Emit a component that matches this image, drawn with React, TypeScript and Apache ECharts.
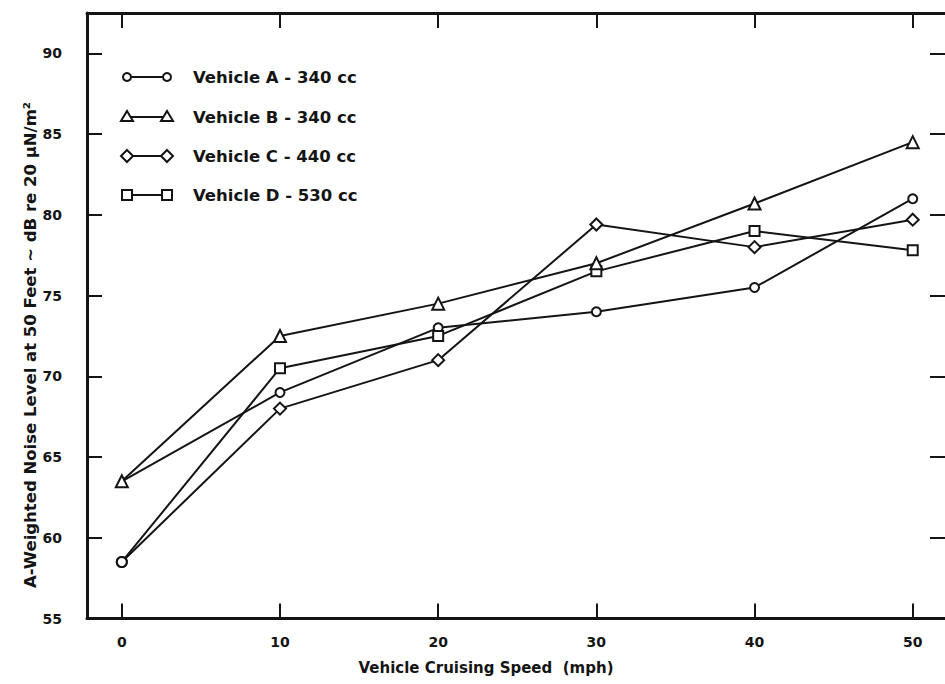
import React, { useEffect, useRef } from "react";
import * as echarts from "echarts";

const speeds = [0, 10, 20, 30, 40, 50];
const vehicleA = [63.5, 69, 73, 74, 75.5, 81];
const vehicleB = [63.5, 72.5, 74.5, 77, 80.7, 84.5];
const vehicleC = [58.5, 68, 71, 79.4, 78, 79.7];
const vehicleD = [58.5, 70.5, 72.5, 76.5, 79, 77.8];
const seriesNames = [
  "Vehicle A - 340 cc",
  "Vehicle B - 340 cc",
  "Vehicle C - 440 cc",
  "Vehicle D - 530 cc",
];
const xTicks = [0, 10, 20, 30, 40, 50];
const yTicks = [55, 60, 65, 70, 75, 80, 85, 90];
const xTitle = "Vehicle Cruising Speed  (mph)";
const yTitle = "A-Weighted Noise Level at 50 Feet ~ dB re 20 μN/m²";

const INK = "#141414";
const FONT = "DejaVu Sans";

export default function App() {
  const ref = useRef<HTMLDivElement>(null);
  useEffect(() => {
    if (!ref.current) return;
    const chart = echarts.init(ref.current, null, { renderer: "svg" });

    const symbols = ["circle", "triangle", "diamond", "rect"];
    const sizes = [9, 12, 12, 10];
    const values = [vehicleA, vehicleB, vehicleC, vehicleD];

    const series = values.map((vals, si) => ({
      name: seriesNames[si],
      type: "line",
      xAxisIndex: 0,
      yAxisIndex: 0,
      symbol: symbols[si],
      symbolSize: sizes[si],
      showAllSymbol: true,
      z: 2 + (si === 1 ? 5 : si),
      lineStyle: { color: INK, width: 2 },
      itemStyle: { color: "#fff", borderColor: INK, borderWidth: 2 },
      emphasis: { disabled: true },
      data: vals.map((v, i) => {
        const item: any = { value: [speeds[i], v] };
        if (i === 0 && si === 0) item.symbol = "none";
        if (i === 0 && (si === 2 || si === 3)) {
          item.symbol = "circle";
          item.symbolSize = 10;
        }
        return item;
      }),
    }));

    const legendY = [77, 117, 156, 195];
    const legendGraphics: any[] = [];
    const mk = (kind: string, x: number, y: number) => {
      const style = { fill: "#fff", stroke: INK, lineWidth: 2 };
      if (kind === "circle") return { type: "circle", shape: { cx: x, cy: y, r: 4 }, style };
      if (kind === "triangle")
        return { type: "polygon", shape: { points: [[x, y - 6], [x + 6, y + 4], [x - 6, y + 4]] }, style };
      if (kind === "diamond")
        return { type: "polygon", shape: { points: [[x, y - 6], [x + 6, y], [x, y + 6], [x - 6, y]] }, style };
      return { type: "rect", shape: { x: x - 5, y: y - 5, width: 10, height: 10 }, style };
    };
    legendY.forEach((y, i) => {
      legendGraphics.push({
        type: "line",
        shape: { x1: 127, y1: y, x2: 167, y2: y },
        style: { stroke: INK, lineWidth: 2 },
      });
      legendGraphics.push(mk(symbols[i], 127, y));
      legendGraphics.push(mk(symbols[i], 167, y));
      legendGraphics.push({
        type: "text",
        x: 193,
        y: y,
        style: {
          text: seriesNames[i],
          fill: INK,
          font: `bold 16.5px '${FONT}'`,
          textVerticalAlign: "middle",
        },
      });
    });

    const axisLine = { show: true, onZero: false, lineStyle: { color: INK, width: 3 } };
    const tick = (vals: number[]) => ({
      show: true,
      inside: true,
      length: 15,
      customValues: vals,
      lineStyle: { color: INK, width: 2 },
    });

    const xMin = -2.2;
    const xMax = 52.04;

    chart.setOption({
      animation: false,
      backgroundColor: "#fff",
      grid: { left: 87, top: 13, width: 858, height: 605.5 },
      xAxis: [
        {
          type: "value",
          min: xMin,
          max: xMax,
          position: "bottom",
          axisLine,
          axisTick: tick(xTicks),
          splitLine: { show: false },
          axisLabel: {
            customValues: xTicks,
            margin: 16,
            color: INK,
            fontFamily: FONT,
            fontWeight: "bold",
            fontSize: 14,
          },
        },
        {
          type: "value",
          min: xMin,
          max: xMax,
          position: "top",
          axisLine,
          axisTick: tick(xTicks),
          splitLine: { show: false },
          axisLabel: { show: false },
        },
      ],
      yAxis: [
        {
          type: "value",
          min: 55,
          max: 92.5,
          position: "left",
          axisLine,
          axisTick: tick(yTicks),
          splitLine: { show: false },
          axisLabel: {
            customValues: yTicks,
            margin: 25,
            color: INK,
            fontFamily: FONT,
            fontWeight: "bold",
            fontSize: 14,
          },
        },
        {
          type: "value",
          min: 55,
          max: 92.5,
          position: "right",
          axisLine: { show: false, onZero: false },
          axisTick: tick(yTicks),
          splitLine: { show: false },
          axisLabel: { show: false },
        },
      ],
      series,
      graphic: [
        ...legendGraphics,
        {
          type: "text",
          x: 486,
          y: 668,
          style: {
            text: xTitle,
            fill: INK,
            font: `bold 15px '${FONT}'`,
            textAlign: "center",
            textVerticalAlign: "middle",
          },
        },
        {
          type: "text",
          x: 30,
          y: 345,
          rotation: Math.PI / 2,
          style: {
            text: yTitle,
            fill: INK,
            font: `bold 16.5px '${FONT}'`,
            textAlign: "center",
            textVerticalAlign: "middle",
          },
        },
      ],
    });
    return () => chart.dispose();
  }, []);
  return (
    <div
      ref={ref}
      style={{ position: "fixed", left: 0, top: 0, width: 945, height: 684, background: "#fff" }}
    />
  );
}
